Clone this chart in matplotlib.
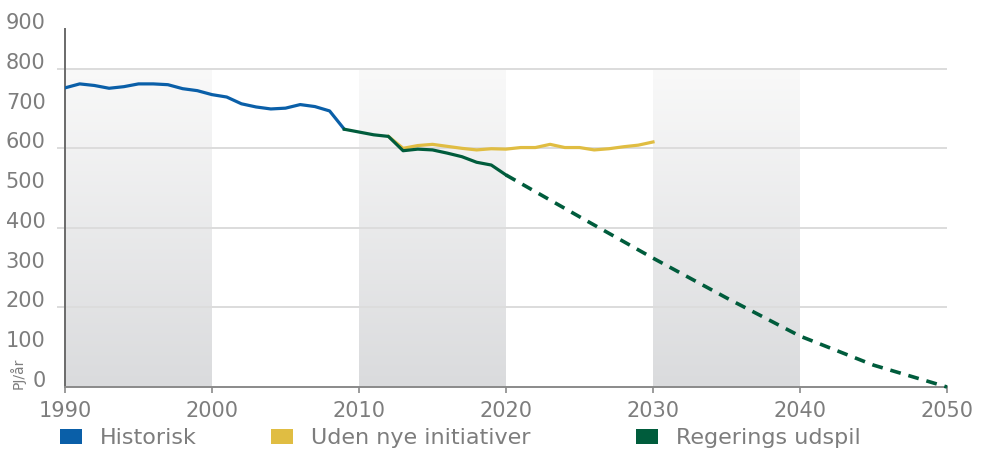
import numpy as np
import matplotlib
matplotlib.use("Agg")
import matplotlib.pyplot as plt
from matplotlib.patches import Patch

# data (PJ/år)
hist_years = list(range(1990, 2010))
hist_vals = [752, 762, 758, 751, 755, 762, 762, 760, 750, 745,
             735, 729, 712, 704, 699, 701, 710, 705, 694, 648]

base_years = list(range(2012, 2031))
base_vals = [630, 600, 607, 610, 605, 600, 596, 599, 598, 602,
             602, 610, 602, 602, 596, 599, 604, 608, 616]

gov_years = list(range(2009, 2021))
gov_vals = [648, 641, 634, 630, 594, 598, 596, 588, 579, 565, 558, 533]

proj_years = [2020, 2025, 2030, 2035, 2040, 2045, 2050]
proj_vals = [533, 428, 324, 224, 128, 55, 0]

band_starts = [1990, 2010, 2030]
grid_vals = [200, 400, 600, 800]
labels = ["Historisk", "Uden nye initiativer", "Regerings udspil"]

blue = "#0a5fa8"
yellow = "#e0bd42"
green = "#005c3c"
gray = "#7d7d7d"

plt.rcParams['font.family'] = ['DejaVu Sans']

fig = plt.figure(figsize=(9.81, 4.5), dpi=100)
ax = fig.add_axes([65 / 981, 63 / 450, 882 / 981, 358 / 450])
ax.set_xlim(1990, 2050)
ax.set_ylim(0, 900)

# grey gradient bands
grad = np.linspace(0, 1, 256).reshape(-1, 1)
cmap = matplotlib.colors.LinearSegmentedColormap.from_list("band", ["#dadbdd", "#f9f9f9"])
for s in band_starts:
    ax.imshow(grad, extent=(s, s + 10, 0, 800), origin="lower", aspect="auto",
              cmap=cmap, zorder=0)

ax.hlines(grid_vals, 1989.45, 2050, colors="#dcdcdc", linewidth=1.4,
          clip_on=False, zorder=1)

ax.plot(hist_years, hist_vals, color=blue, lw=2.3, zorder=4, solid_capstyle="round")
ax.plot(base_years, base_vals, color=yellow, lw=2.3, zorder=3)
ax.plot(gov_years, gov_vals, color=green, lw=2.3, zorder=5)
ax.plot(proj_years, proj_vals, color=green, lw=2.6, linestyle=(0, (3.0, 2.2)),
        zorder=5, clip_on=False)

for side in ["top", "right"]:
    ax.spines[side].set_visible(False)
ax.spines["left"].set_color("#6a6a6a")
ax.spines["left"].set_linewidth(1.4)
ax.spines["bottom"].set_color("#8a8a8a")
ax.spines["bottom"].set_linewidth(1.4)

ax.set_xticks(range(1990, 2051, 10))
ax.tick_params(axis="x", length=4, width=1.2, color="#8a8a8a", labelcolor=gray,
               labelsize=15, pad=6)
ax.set_yticks(range(0, 901, 100))
ax.tick_params(axis="y", length=0, labelcolor=gray, labelsize=15, pad=14)
for lab in ax.get_yticklabels():
    lab.set_va("baseline")

fig.text(18 / 981, 1 - 389 / 450, "PJ/år", rotation=90, ha="center", va="bottom",
         fontsize=10, color=gray)

# legend entries placed one by one to follow the reference spacing
colors = [blue, yellow, green]
xpos = [60, 271, 636]
for lab, c, x in zip(labels, colors, xpos):
    fig.legend(handles=[Patch(facecolor=c, edgecolor="none", label=lab)],
               loc="center left", bbox_to_anchor=(x / 981, 1 - 438 / 450),
               frameon=False, fontsize=16, labelcolor=gray, borderaxespad=0,
               borderpad=0, handlelength=1.0, handleheight=0.65, handletextpad=0.8)

fig.savefig("out.png", dpi=100)
